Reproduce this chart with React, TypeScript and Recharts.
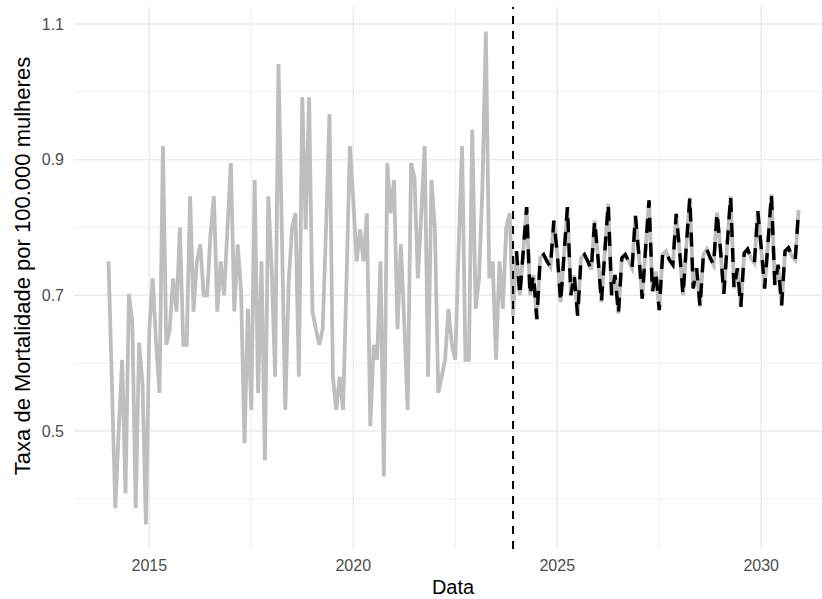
import React from 'react';
import { LineChart, Line, XAxis, YAxis, CartesianGrid, ReferenceLine } from 'recharts';

// monthly series, first month = Jan 2014
const startYear = 2014;

// observed rate, Jan 2014 - Dec 2023
const observed = [
  0.75, 0.57, 0.386, 0.5, 0.605, 0.408, 0.702, 0.66, 0.386, 0.63, 0.57, 0.362,
  0.65, 0.725, 0.63, 0.556, 0.92, 0.627, 0.65, 0.725, 0.676, 0.8, 0.627, 0.627,
  0.846, 0.676, 0.75, 0.775, 0.7, 0.7, 0.79, 0.846, 0.676, 0.75, 0.7, 0.8,
  0.895, 0.676, 0.775, 0.705, 0.482, 0.68, 0.531, 0.87, 0.556, 0.75, 0.457, 0.846,
  0.74, 0.58, 1.041, 0.79, 0.531, 0.72, 0.8, 0.821, 0.58, 0.992, 0.797, 0.992,
  0.676, 0.65, 0.627, 0.65, 0.8, 0.967, 0.58, 0.531, 0.58, 0.531, 0.72, 0.92,
  0.84, 0.75, 0.797, 0.75, 0.821, 0.507, 0.627, 0.605, 0.75, 0.433, 0.895, 0.821,
  0.87, 0.65, 0.775, 0.66, 0.531, 0.895, 0.873, 0.725, 0.82, 0.92, 0.58, 0.87,
  0.8, 0.556, 0.58, 0.605, 0.68, 0.627, 0.605, 0.77, 0.92, 0.605, 0.605, 0.944,
  0.68, 0.725, 0.86, 1.089, 0.725, 0.75, 0.605, 0.75, 0.68, 0.8, 0.821, 0.67,
];

// forecast, Jan 2024 - Dec 2030
const forecast = [
  0.765, 0.7, 0.765, 0.83, 0.7, 0.73, 0.665, 0.755, 0.76, 0.75, 0.742, 0.81,
  0.762, 0.69, 0.76, 0.83, 0.7, 0.73, 0.67, 0.755, 0.76, 0.75, 0.738, 0.81,
  0.755, 0.69, 0.765, 0.835, 0.7, 0.73, 0.673, 0.755, 0.76, 0.75, 0.74, 0.817,
  0.76, 0.695, 0.77, 0.84, 0.705, 0.735, 0.678, 0.76, 0.765, 0.752, 0.745, 0.82,
  0.765, 0.7, 0.775, 0.844, 0.71, 0.74, 0.683, 0.76, 0.768, 0.755, 0.745, 0.822,
  0.768, 0.702, 0.775, 0.846, 0.71, 0.74, 0.683, 0.762, 0.768, 0.755, 0.748, 0.824,
  0.77, 0.71, 0.778, 0.849, 0.715, 0.745, 0.685, 0.765, 0.77, 0.758, 0.752, 0.826,
];

const xTicks = [2015, 2020, 2025, 2030];
const xMinor = [2017.5, 2022.5, 2027.5];
const yTicks = [0.5, 0.7, 0.9, 1.1];
const yMinor = [0.4, 0.6, 0.8, 1.0];
const cutoff = 2023 + 11 / 12;

const data = [...observed, ...forecast].map((v, i) => ({
  t: startYear + i / 12,
  serie: v,
  previsao: i >= observed.length ? v : null,
}));

const font = '"Liberation Sans", Arial, sans-serif';
const tickStyle = { fill: '#4d4d4d', fontSize: 16, fontFamily: font };

// rotated y title, centred a little above the panel middle
const YTitle = (props: any) => {
  const vb = props.viewBox || { x: 0, y: 0, height: 0 };
  const cx = vb.x + 22;
  const cy = vb.y + vb.height / 2 - 12;
  return (
    <text
      x={cx}
      y={cy}
      transform={`rotate(-90 ${cx} ${cy})`}
      textAnchor="middle"
      dominantBaseline="central"
      fill="#000"
      fontSize={22}
      fontFamily={font}
    >
      Taxa de Mortalidade por 100.000 mulheres
    </text>
  );
};

export default function App() {
  return (
    <div style={{ position: 'absolute', left: 0, top: 0, width: 822, height: 599, background: '#fff', fontFamily: font }}>
      <LineChart width={822} height={599} data={data} margin={{ top: 7, right: 0, bottom: 0, left: 0 }}>
        <CartesianGrid stroke="#ebebeb" strokeWidth={0.8} horizontalValues={yMinor} verticalValues={xMinor} />
        <CartesianGrid stroke="#ebebeb" strokeWidth={1.5} horizontalValues={yTicks} verticalValues={xTicks} />
        <XAxis
          dataKey="t"
          type="number"
          domain={[2013.154, 2031.49]}
          ticks={xTicks}
          allowDataOverflow
          axisLine={false}
          tickLine={false}
          tickSize={0}
          tickMargin={11}
          height={50}
          tick={tickStyle}
          label={{ value: 'Data', position: 'insideBottom', offset: 5, dx: 5, fill: '#000', fontSize: 20, fontFamily: font }}
        />
        <YAxis
          type="number"
          domain={[0.326, 1.125]}
          ticks={yTicks}
          allowDataOverflow
          axisLine={false}
          tickLine={false}
          tickSize={0}
          tickMargin={10}
          width={74}
          tick={tickStyle}
          tickFormatter={(v: number) => v.toFixed(1)}
          label={<YTitle />}
        />
        <Line dataKey="serie" stroke="#bebebe" strokeWidth={3.8} dot={false} type="linear" isAnimationActive={false} />
        <Line
          dataKey="previsao"
          stroke="#000"
          strokeWidth={3.4}
          strokeDasharray="14 11"
          dot={false}
          type="linear"
          isAnimationActive={false}
        />
        <ReferenceLine x={cutoff} stroke="#000" strokeWidth={2} strokeDasharray="8 7" />
      </LineChart>
    </div>
  );
}
